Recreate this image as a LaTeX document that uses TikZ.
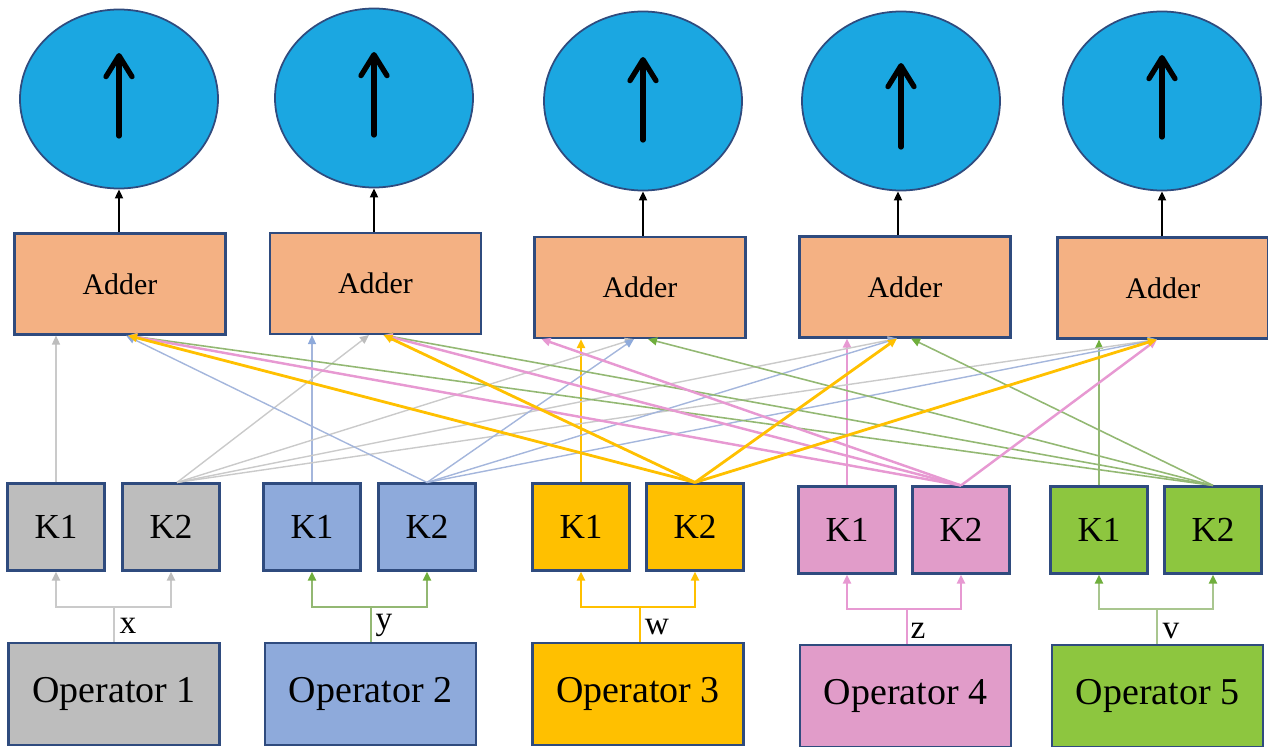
\documentclass[tikz,border=0pt]{standalone}
\usepackage{fontspec}
\setmainfont{LiberationSerif}[Extension=.ttf, UprightFont=*-Regular, BoldFont=*-Bold, ItalicFont=*-Italic, BoldItalicFont=*-BoldItalic]
\usetikzlibrary{calc,arrows.meta,shapes.geometric}

\definecolor{spinc}{HTML}{1BA7E1}
\definecolor{bordc}{HTML}{2F4B7E}
\definecolor{adderc}{HTML}{F4B183}
\definecolor{grayc}{HTML}{BDBDBD}
\definecolor{bluec}{HTML}{8EAADB}
\definecolor{yellowc}{HTML}{FFC000}
\definecolor{pinkc}{HTML}{E19CC9}
\definecolor{greenc}{HTML}{8DC63F}
\definecolor{grayln}{HTML}{CACACA}
\definecolor{blueln}{HTML}{A4B6DC}
\definecolor{pinkln}{HTML}{E799D2}
\definecolor{greenln}{HTML}{93B873}
\definecolor{greentip}{HTML}{6FAE3C}

\tikzset{
	spin/.style={ellipse, draw=bordc, line width=0.5pt, fill=spinc, minimum width=19.8mm, minimum height=17.9mm, inner sep=0pt},
	adderbox/.style={rectangle, draw=bordc, line width=0.6pt, fill=adderc, minimum width=21.1mm, minimum height=10.1mm, font=\fontsize{8.5}{10}\selectfont},
	kbox/.style={rectangle, draw=bordc, line width=0.6pt, minimum width=9.7mm, minimum height=8.7mm, font=\fontsize{10}{12}\selectfont},
	opbox/.style={rectangle, draw=bordc, line width=0.6pt, minimum width=21.1mm, minimum height=10.2mm, font=\fontsize{10.8}{13}\selectfont},
	lbl/.style={font=\fontsize{9.5}{11}\selectfont, inner sep=0pt},
	tip/.style={-{Triangle[length=0.9mm, width=0.8mm, color=#1]}},
	bigarrow/.style={line width=1.5pt, line cap=round, -{Straight Barb[length=2.1mm, width=2.6mm, line join=round, line cap=round]}},
	grayline/.style={draw=grayln, line width=0.4pt, tip=grayc},
	blueline/.style={draw=blueln, line width=0.4pt, tip=bluec},
	yellowline/.style={draw=yellowc, line width=0.8pt, tip=yellowc},
	pinkline/.style={draw=pinkln, line width=0.7pt, tip=pinkln},
	greenline/.style={draw=greenln, line width=0.45pt, tip=greentip}
}

\begin{document}
\begin{tikzpicture}[x=0.1mm, y=-0.1mm]
			%%%%% START %%%%%
			\useasboundingbox (0, 0) rectangle (1268, 747);
			
			% outputs
			\node[spin] (c1) at (119, 99) {};
			\node[spin] (c2) at (374, 98) {};
			\node[spin] (c3) at (643, 101) {};
			\node[spin] (c4) at (901, 101) {};
			\node[spin] (c5) at (1162, 101) {};
			\draw[bigarrow] ($(c1)+(0, 37)$) -- ($(c1)+(0, -46)$);
			\draw[bigarrow] ($(c2)+(0, 37)$) -- ($(c2)+(0, -46)$);
			\draw[bigarrow] ($(c3)+(0, 39)$) -- ($(c3)+(0, -44)$);
			\draw[bigarrow] ($(c4)+(0, 46)$) -- ($(c4)+(0, -38)$);
			\draw[bigarrow] ($(c5)+(0, 36)$) -- ($(c5)+(0, -46)$);
			
			% adders
			\node[adderbox] (a1) at (120, 284) {Adder};
			\node[adderbox] (a2) at (375.5, 283.5) {Adder};
			\node[adderbox] (a3) at (640, 287.5) {Adder};
			\node[adderbox] (a4) at (905, 287) {Adder};
			\node[adderbox] (a5) at (1163, 288) {Adder};
			\draw[tip=black, line width=0.5pt] (a1.north -| c1) -- (c1.south);
			\draw[tip=black, line width=0.5pt] (a2.north -| c2) -- (c2.south);
			\draw[tip=black, line width=0.5pt] (a3.north -| c3) -- (c3.south);
			\draw[tip=black, line width=0.5pt] ([xshift=-0.3mm]a4.north -| c4) -- ([xshift=-0.3mm]c4.south);
			\draw[tip=black, line width=0.5pt] (a5.north -| c5) -- (c5.south);
			
			% key pairs
			\node[kbox, fill=grayc] (k1a) at (56, 527) {K1};
			\node[kbox, fill=grayc] (k2a) at (171, 527) {K2};
			\node[kbox, fill=bluec] (k1b) at (312, 527) {K1};
			\node[kbox, fill=bluec] (k2b) at (427, 527) {K2};
			\node[kbox, fill=yellowc] (k1c) at (581, 527) {K1};
			\node[kbox, fill=yellowc] (k2c) at (695, 527) {K2};
			\node[kbox, fill=pinkc] (k1d) at (847, 530) {K1};
			\node[kbox, fill=pinkc] (k2d) at (961, 530) {K2};
			\node[kbox, fill=greenc] (k1e) at (1099, 530) {K1};
			\node[kbox, fill=greenc] (k2e) at (1213, 530) {K2};
			
			% operators
			\node[opbox, fill=grayc] (o1) at (114, 694) {Operator 1};
			\node[opbox, fill=bluec] (o2) at (370.5, 694) {Operator 2};
			\node[opbox, fill=yellowc] (o3) at (638, 694) {Operator 3};
			\node[opbox, fill=pinkc] (o4) at (905.5, 696) {Operator 4};
			\node[opbox, fill=greenc] (o5) at (1157.5, 696) {Operator 5};
			
			% forks
			\coordinate (f1) at (114, 607);
			\coordinate (f2) at (371, 607);
			\coordinate (f3) at (640, 607);
			\coordinate (f4) at (907, 609);
			\coordinate (f5) at (1157, 609);
			\draw[draw=grayln, line width=0.6pt, tip=grayc] (o1.north -| f1) -- (f1) -| (k1a.south);
			\draw[draw=grayln, line width=0.6pt, tip=grayc] (f1) -| (k2a.south);
			\draw[draw=greenln, line width=0.6pt, tip=greentip] (o2.north -| f2) -- (f2) -| (k1b.south);
			\draw[draw=greenln, line width=0.6pt, tip=greentip] (f2) -| (k2b.south);
			\draw[draw=yellowc, line width=0.8pt, tip=yellowc] (o3.north -| f3) -- (f3) -| (k1c.south);
			\draw[draw=yellowc, line width=0.8pt, tip=yellowc] (f3) -| (k2c.south);
			\draw[draw=pinkln, line width=0.7pt, tip=pinkln] (o4.north -| f4) -- (f4) -| (k1d.south);
			\draw[draw=pinkln, line width=0.7pt, tip=pinkln] (f4) -| (k2d.south);
			\draw[draw=greenln!80, line width=0.6pt, tip=greentip] (o5.north -| f5) -- (f5) -| (k1e.south);
			\draw[draw=greenln!80, line width=0.6pt, tip=greentip] (f5) -| (k2e.south);
			\node[lbl] (lx) at (128, 626) {x};
			\node[lbl] (ly) at (384, 625) {y};
			\node[lbl] (lw) at (657, 627) {w};
			\node[lbl] (lz) at (918, 631) {z};
			\node[lbl] (lv) at (1171, 631) {v};
			
			% K1 to own adder
			\draw[grayline] (k1a.north) -- (k1a.north |- a1.south);
			\draw[blueline] (k1b.north) -- (k1b.north |- a2.south);
			\draw[yellowline] (k1c.north) -- (k1c.north |- a3.south);
			\draw[pinkline] (k1d.north) -- (k1d.north |- a4.south);
			\draw[greenline] (k1e.north) -- (k1e.north |- a5.south);
			
			% K2 to the other adders
			\draw[grayline] ([xshift=0.6mm]k2a.north) -- ([xshift=-0.65mm]a2.south);
			\draw[grayline] ([xshift=0.6mm]k2a.north) -- ([xshift=-0.6mm]a3.south);
			\draw[grayline] ([xshift=0.6mm]k2a.north) -- ([xshift=-0.8mm]a4.south);
			\draw[grayline] ([xshift=0.6mm]k2a.north) -- ([xshift=-0.6mm]a5.south);
			
			\draw[blueline] (k2b.north) -- ([xshift=0.6mm]a1.south);
			\draw[blueline] (k2b.north) -- ([xshift=-0.6mm]a3.south);
			\draw[blueline] (k2b.north) -- ([xshift=-0.8mm]a4.south);
			\draw[blueline] (k2b.north) -- ([xshift=-0.6mm]a5.south);
			
			\draw[greenline] (k2e.north) -- ([xshift=0.8mm]a1.south);
			\draw[greenline] (k2e.north) -- ([xshift=0.8mm]a2.south);
			\draw[greenline] (k2e.north) -- ([xshift=0.8mm]a3.south);
			\draw[greenline] (k2e.north) -- ([xshift=0.6mm]a4.south);
			
			\draw[pinkline] (k2d.north) -- ([xshift=0.8mm]a1.south);
			\draw[pinkline] (k2d.north) -- ([xshift=0.8mm]a2.south);
			\draw[pinkline] (k2d.north) -- ([xshift=0.8mm]a3.south west);
			\draw[pinkline] (k2d.north) -- ([xshift=-0.6mm]a5.south);
			
			\draw[yellowline] (k2c.north) -- ([xshift=0.8mm]a1.south);
			\draw[yellowline] (k2c.north) -- ([xshift=0.8mm]a2.south);
			\draw[yellowline] (k2c.north) -- ([xshift=-0.8mm]a4.south);
			\draw[yellowline] (k2c.north) -- ([xshift=-0.6mm]a5.south);
			%%%%% END %%%%%
\end{tikzpicture}
\end{document}
